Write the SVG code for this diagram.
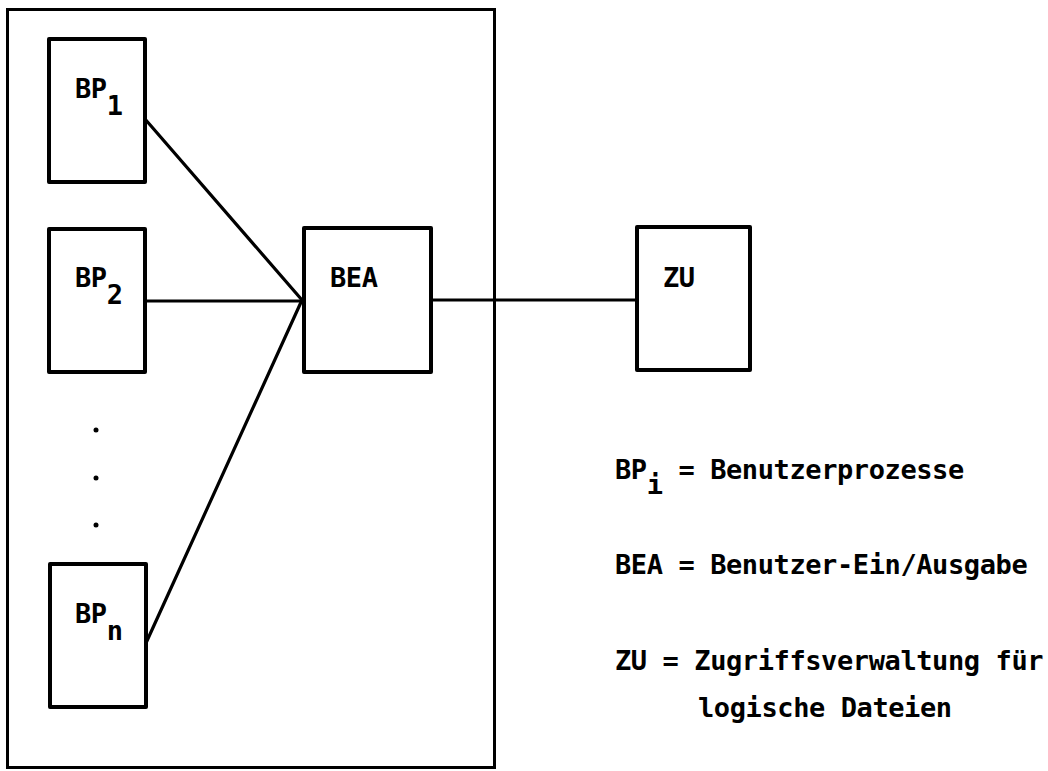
<svg xmlns="http://www.w3.org/2000/svg" width="1048" height="771" viewBox="0 0 1048 771">
<style>
.box{fill:none;stroke:#000;stroke-width:4;stroke-linejoin:round}
.frame{fill:none;stroke:#000;stroke-width:3}
.ln{stroke:#000;stroke-width:3.2;fill:none;stroke-linecap:round}
text{font-family:"DejaVu Sans Mono","Liberation Mono",monospace;font-size:27px;font-weight:bold;fill:#000;letter-spacing:-0.4px}
</style>
<rect width="1048" height="771" fill="#fff"/>
<rect id="frame" class="frame" x="7.5" y="9.5" width="487" height="758"/>
<g id="connectors">
<line class="ln" x1="145" y1="119" x2="302" y2="300"/>
<line class="ln" x1="145" y1="301" x2="302" y2="301"/>
<line class="ln" x1="146" y1="643" x2="302" y2="300"/>
<line class="ln" x1="431" y1="300" x2="637" y2="300"/>
</g>
<g id="BP1"><rect class="box" x="49" y="39" width="96" height="143"/><text x="75" y="98">BP<tspan dy="17">1</tspan></text></g>
<g id="BP2"><rect class="box" x="49" y="229" width="96" height="143"/><text x="75" y="287">BP<tspan dy="17">2</tspan></text></g>
<g id="dots"><circle cx="96" cy="430" r="2.5"/><circle cx="96" cy="478" r="2.5"/><circle cx="96" cy="525" r="2.5"/></g>
<g id="BPn"><rect class="box" x="50" y="564" width="96" height="143"/><text x="75" y="623">BP<tspan dy="17">n</tspan></text></g>
<g id="BEA"><rect class="box" x="304" y="228" width="127" height="144"/><text x="330" y="287">BEA</text></g>
<g id="ZU"><rect class="box" x="637" y="227" width="113" height="143"/><text x="663" y="287">ZU</text></g>
<g id="legend">
<text x="615" y="479">BP<tspan dy="15">i</tspan><tspan dy="-15"> = Benutzerprozesse</tspan></text>
<text x="615" y="574">BEA = Benutzer-Ein/Ausgabe</text>
<text x="615" y="670">ZU = Zugriffsverwaltung für</text>
<text x="698" y="717">logische Dateien</text>
</g>
</svg>
